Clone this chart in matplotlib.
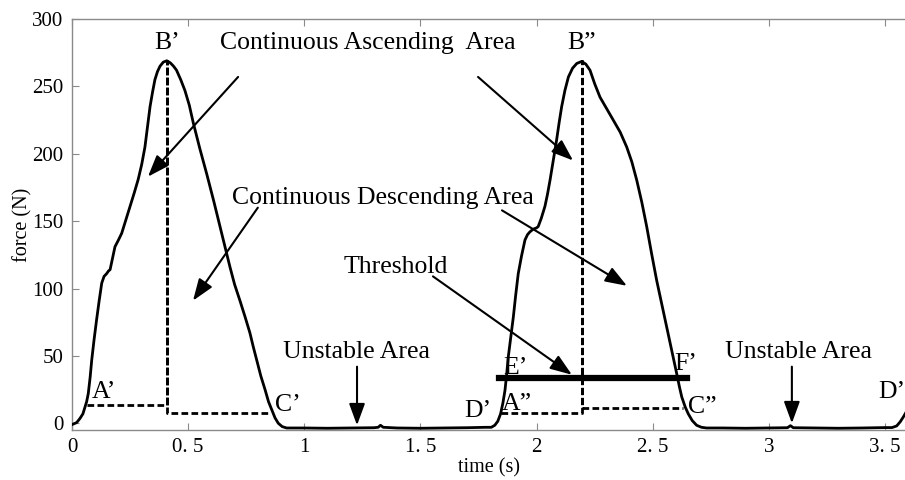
import numpy as np
import matplotlib
matplotlib.use("Agg")
import matplotlib.pyplot as plt

# force signal (time in s, force in N)
time = [0.0, 0.02, 0.034, 0.047, 0.056, 0.063, 0.07, 0.078, 0.085, 0.095, 0.106, 0.117,
        0.128, 0.138, 0.149, 0.157, 0.164, 0.175, 0.185, 0.2, 0.214, 0.232, 0.25, 0.268,
        0.285, 0.3, 0.314, 0.325, 0.336, 0.347, 0.357, 0.368, 0.379, 0.393, 0.408, 0.423,
        0.437, 0.45, 0.468, 0.486, 0.505, 0.522, 0.55, 0.58, 0.61, 0.637, 0.66, 0.68,
        0.7, 0.723, 0.745, 0.766, 0.78, 0.795, 0.813, 0.831, 0.846, 0.86, 0.874, 0.888,
        0.905, 0.924,
        1.0, 1.1, 1.2, 1.3, 1.318, 1.328, 1.34, 1.4, 1.5, 1.6, 1.7, 1.78, 1.805,
        1.82, 1.833, 1.845, 1.855, 1.864, 1.871, 1.878, 1.889, 1.9, 1.91, 1.921, 1.935,
        1.95, 1.961, 1.971, 1.985, 2.0, 2.007, 2.02, 2.036, 2.047, 2.058, 2.072, 2.086,
        2.097, 2.108, 2.122, 2.137, 2.155, 2.173, 2.194, 2.212, 2.23, 2.25, 2.273, 2.3,
        2.33, 2.36, 2.388, 2.41, 2.431, 2.453, 2.474, 2.495, 2.517, 2.538, 2.56, 2.582,
        2.603, 2.615, 2.625, 2.64, 2.653, 2.67, 2.689, 2.71, 2.732,
        2.8, 2.9, 3.0, 3.08, 3.093, 3.105, 3.2, 3.3, 3.4, 3.5, 3.53, 3.55, 3.565,
        3.58, 3.59]
force = [-1, 0.5, 3.5, 7, 12, 16, 22, 34, 47, 62, 77, 91,
         104, 109, 111, 113, 114, 123, 131, 136, 141, 151, 161, 171,
         181, 192, 205, 220, 235, 246, 255, 261, 265, 268, 269, 267.5,
         265, 262, 255, 247, 236, 223, 204, 185, 165, 146, 130, 116,
         103, 91, 79, 67, 57, 47, 35, 25, 16, 10, 4, 0,
         -2.5, -3.5,
         -3.5, -3.7, -3.5, -3.3, -3, -1.5, -3, -3.5, -3.7, -3.5, -3.3, -3, -3,
         -1.5, 1.5, 7, 15, 24.5, 36, 49, 64, 79, 95, 111, 124,
         136, 140, 142, 144, 145, 146, 152, 161, 170, 180.5, 195, 210,
         223, 235, 247, 257, 263.5, 267, 268.5, 266.5, 262, 252, 242, 234,
         225, 216, 205, 194, 180.5, 164, 146, 126, 106, 89, 71.5, 54,
         37, 27, 19.5, 12, 7, 2, -1.5, -3, -3.5,
         -3.5, -3.7, -3.5, -3.3, -1.8, -3.3, -3.5, -3.7, -3.5, -3.2, -3.2, -2, 1,
         5, 8]

# dashed segmentation lines
seg1_t = [0.065, 0.408, 0.408, 0.408, 0.852]
seg1_f = [13.9, 13.9, 269, 7.4, 7.4]
seg2_t = [1.848, 2.195, 2.195, 2.195, 2.63]
seg2_f = [7.4, 7.4, 268.5, 11.5, 11.5]

threshold = 33.4
thr_start, thr_end = 1.839, 2.646

xticks = [0, 0.5, 1, 1.5, 2, 2.5, 3, 3.5]
xtick_labels = ["0", "0. 5", "1", "1. 5", "2", "2. 5", "3", "3. 5"]
yticks = [0, 50, 100, 150, 200, 250, 300]

plt.rcParams['font.family'] = ['Liberation Serif', 'DejaVu Serif']

fig = plt.figure(figsize=(9.05, 4.8), dpi=100)
ax = fig.add_axes([72/905, 1-430/480, 1-72/905, (430-19)/480])

ax.plot(time, force, color='k', lw=2.0, zorder=3, solid_joinstyle='round')
ax.plot(seg1_t, seg1_f, color='k', lw=2, ls=(0, (2.4, 1.2)))
ax.plot(seg2_t, seg2_f, color='k', lw=2, ls=(0, (2.4, 1.2)))
ax.plot([thr_start, thr_end], [threshold, threshold], color='k', lw=4.5, zorder=4)

ax.set_xlim(0, 3.586)
ax.set_ylim(-5, 300)
ax.set_xticks(xticks)
ax.set_xticklabels(xtick_labels)
ax.set_yticks(yticks)

gray = '#8a8a8a'
for s in ['left', 'top', 'bottom']:
    ax.spines[s].set_color(gray)
    ax.spines[s].set_linewidth(1.0)
ax.spines['right'].set_visible(False)
ax.tick_params(direction='in', length=5, color=gray, labelsize=15,
               top=True, right=False, pad=6)

ax.set_xlabel("time (s)", fontsize=14.5, labelpad=1)
ax.set_ylabel("force (N)", fontsize=14.5, labelpad=0)

fs = 18.5
arrow = dict(arrowstyle='-|>,head_length=0.6,head_width=0.22', color='k', lw=1.5,
             mutation_scale=22, shrinkA=0, shrinkB=0)

ax.text(0.409, 282, "B\u2019", fontsize=fs, ha='center', va='center')
ax.text(2.195, 282, "B\u201d", fontsize=fs, ha='center', va='center')
ax.text(0.637, 282, "Continuous Ascending  Area", fontsize=fs, ha='left', va='center')
ax.annotate("", xy=(0.327, 183), xytext=(0.715, 257), arrowprops=arrow)
ax.annotate("", xy=(2.157, 195), xytext=(1.748, 257), arrowprops=arrow)

ax.text(0.689, 167, "Continuous Descending Area", fontsize=fs, ha='left', va='center')
ax.annotate("", xy=(0.521, 91), xytext=(0.80, 160), arrowprops=arrow)
ax.annotate("", xy=(2.389, 102), xytext=(1.851, 158), arrowprops=arrow)

ax.text(1.167, 116, "Threshold", fontsize=fs, ha='left', va='center')
ax.annotate("", xy=(2.152, 36), xytext=(1.554, 109), arrowprops=arrow)

ax.text(0.908, 53, "Unstable Area", fontsize=fs, ha='left', va='center')
ax.annotate("", xy=(1.227, -1.5), xytext=(1.227, 42), arrowprops=arrow)
ax.text(2.811, 53, "Unstable Area", fontsize=fs, ha='left', va='center')
ax.annotate("", xy=(3.099, 0), xytext=(3.099, 42), arrowprops=arrow)

points = [("A\u2019", 0.138, 23), ("C\u2019", 0.93, 13.5), ("D\u2019", 1.748, 9),
          ("A\u201d", 1.916, 14), ("E\u2019", 1.911, 41), ("F\u2019", 2.643, 44),
          ("C\u201d", 2.712, 12), ("D\u2019", 3.53, 23)]
for lab, x, y in points:
    ax.text(x, y, lab, fontsize=fs, ha='center', va='center')

fig.savefig("out.png", dpi=100)
